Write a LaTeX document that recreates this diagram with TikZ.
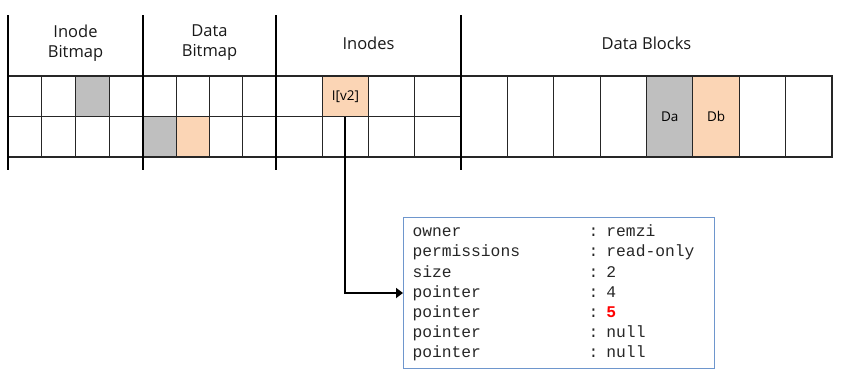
\documentclass[tikz,border=0pt]{standalone}
\usepackage{fontspec}
\setmainfont{Open Sans}
\newfontfamily\monofont{Liberation Mono}
\usetikzlibrary{arrows.meta}
\definecolor{grayfill}{RGB}{191,191,191}
\definecolor{peachfill}{RGB}{251,213,181}
\definecolor{boxblue}{RGB}{110,150,205}
\begin{document}
\begin{tikzpicture}[x=1pt,y=-1pt,
  cellbox/.style={draw=black!85, line width=1.2pt, inner sep=0pt, outer sep=0pt, anchor=north west, font=\fontsize{13.5}{15}\selectfont},
  sepline/.style={line width=2pt, black},
  hdr/.style={font=\fontsize{16.5}{20}\selectfont, align=center, text=black!90},
  arrowline/.style={line width=2pt, -{Triangle[length=7pt,width=10pt]}}]
\useasboundingbox (0,0) rectangle (843,386);
% grid cells
\foreach \r/\y in {1/76,2/116.5}{
  \foreach \c in {1,...,4}{
    \node[cellbox, minimum width=33.75pt, minimum height=40.5pt] (ib\r\c) at ({8+33.75*(\c-1)},\y) {};
    \node[cellbox, minimum width=33.25pt, minimum height=40.5pt] (db\r\c) at ({143+33.25*(\c-1)},\y) {};
    \node[cellbox, minimum width=46.25pt, minimum height=40.5pt] (in\r\c) at ({276+46.25*(\c-1)},\y) {};
  }
}
\foreach \c in {1,...,8}{
  \node[cellbox, minimum width=46.375pt, minimum height=81pt] (dk\c) at ({461+46.375*(\c-1)},76) {};
}
% highlighted cells
\node[cellbox, fill=grayfill, minimum width=33.75pt, minimum height=40.5pt] (ibhl) at (ib13.north west) {};
\node[cellbox, fill=grayfill, minimum width=33.25pt, minimum height=40.5pt] (dbhla) at (db21.north west) {};
\node[cellbox, fill=peachfill, minimum width=33.25pt, minimum height=40.5pt] (dbhlb) at (db22.north west) {};
\node[cellbox, fill=peachfill, minimum width=46.25pt, minimum height=40.5pt] (iv2) at (in12.north west) {I[v2]};
\node[cellbox, fill=grayfill, minimum width=46.375pt, minimum height=81pt] (da) at (dk5.north west) {Da};
\node[cellbox, fill=peachfill, minimum width=46.375pt, minimum height=81pt] (dbk) at (dk6.north west) {Db};
% separators
\foreach \x in {8,143,276,461}{
  \draw[sepline] (\x,15) -- (\x,170);
}
% headers
\node[hdr] (h1) at (75.5,43) {Inode\\[0pt]Bitmap};
\node[hdr] (h2) at (209.5,43) {Data\\[0pt]Bitmap};
\node[hdr] (h3) at (368.5,43) {Inodes};
\node[hdr] (h4) at (646.5,43) {Data Blocks};
% inode contents box
\node[draw=boxblue, line width=1pt, anchor=north west, minimum width=311pt, minimum height=151pt,
  inner xsep=9pt, inner ysep=0pt, text width=293pt, align=left,
  font=\monofont\fontsize{16.3}{20.2}\selectfont, text=black!85] (box) at (403,217)
  {\makebox[176pt][l]{owner}: remzi\\
   \makebox[176pt][l]{permissions}: read-only\\
   \makebox[176pt][l]{size}: 2\\
   \makebox[176pt][l]{pointer}: 4\\
   \makebox[176pt][l]{pointer}: \textcolor{red}{\bfseries 5}\\
   \makebox[176pt][l]{pointer}: null\\
   \makebox[176pt][l]{pointer}: null};
\draw[arrowline] (iv2.south) |- (box.west);
\end{tikzpicture}
\end{document}
